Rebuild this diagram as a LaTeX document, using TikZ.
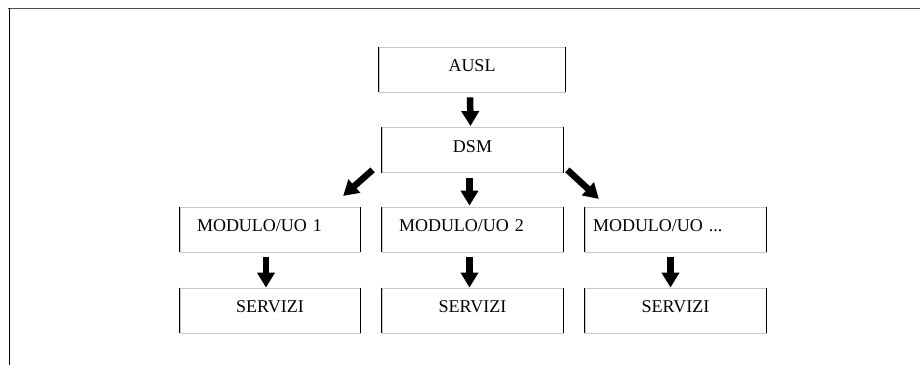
\documentclass[tikz,border=0pt]{standalone}
\usepackage{fontspec}
\setmainfont{Liberation Serif}
\usepackage{tikz}
\usetikzlibrary{arrows.meta}
\tikzset{
  unitbox/.style={draw=black!22, line width=0.8pt, minimum width=181pt, minimum height=45pt,
    inner sep=0pt, text height=12pt, text depth=8pt,
    font=\fontsize{18}{20}\selectfont},
  modbox/.style={unitbox, align=left, text width=147pt, inner xsep=17pt},
  sideline/.style={black, line width=1.4pt},
  blockarrow/.style={line width=6.5pt, -{Triangle[width=17pt,length=15pt]},
    shorten <=5pt, shorten >=1pt}
}

\begin{document}
\begin{tikzpicture}[x=1pt,y=-1pt]
    \useasboundingbox (0,0) rectangle (920,365);
    % frame
    \draw[black!70, line width=1.6pt] (8,8.5) -- (920,8.5);
    \draw[black, line width=1pt] (9.5,8) -- (9.5,365);

    \node[unitbox, minimum width=186pt] (ausl) at (472,69.5) {AUSL};
    \node[unitbox] (dsm) at (472.5,150) {DSM};

    \node[modbox, minimum width=180pt, text width=146pt] (mod1) at (270,229.5) {MODULO/UO 1};
    \node[modbox] (mod2) at (472.5,229.5) {MODULO/UO 2};
    \node[modbox, inner xsep=8pt, text width=165pt] (mod3) at (675.5,229.5) {MODULO/UO ...};

    \node[unitbox, minimum width=180pt] (serv1) at (270,310.5) {SERVIZI};
    \node[unitbox] (serv2) at (472.5,310.5) {SERVIZI};
    \node[unitbox] (serv3) at (675.5,310.5) {SERVIZI};

    % black sides of the boxes
    \foreach \n in {ausl,dsm,mod1,mod2,mod3,serv1,serv2,serv3}
        \draw[sideline] (\n.north west) -- (\n.south west)
                        (\n.north east) -- (\n.south east);

    % arrows
    \draw[blockarrow] ([xshift=-2]ausl.south) -- ([xshift=-2]dsm.north);
    \draw[blockarrow] ([xshift=-3]dsm.south) -- ([xshift=-3]mod2.north);
    \draw[blockarrow, shorten <=0pt] ([shift={(-9,-3)}]dsm.south west) -- ([shift={(-18,-10)}]mod1.north east);
    \draw[blockarrow, shorten <=0pt] ([shift={(4,-3)}]dsm.south east) -- ([shift={(15,-7)}]mod3.north west);
    \draw[blockarrow, shorten >=0pt] ([xshift=-4]mod1.south) -- ([xshift=-4]serv1.north);
    \draw[blockarrow, shorten >=0pt] ([xshift=-3]mod2.south) -- ([xshift=-3]serv2.north);
    \draw[blockarrow, shorten >=0pt] ([xshift=-5]mod3.south) -- ([xshift=-5]serv3.north);
\end{tikzpicture}
\end{document}
